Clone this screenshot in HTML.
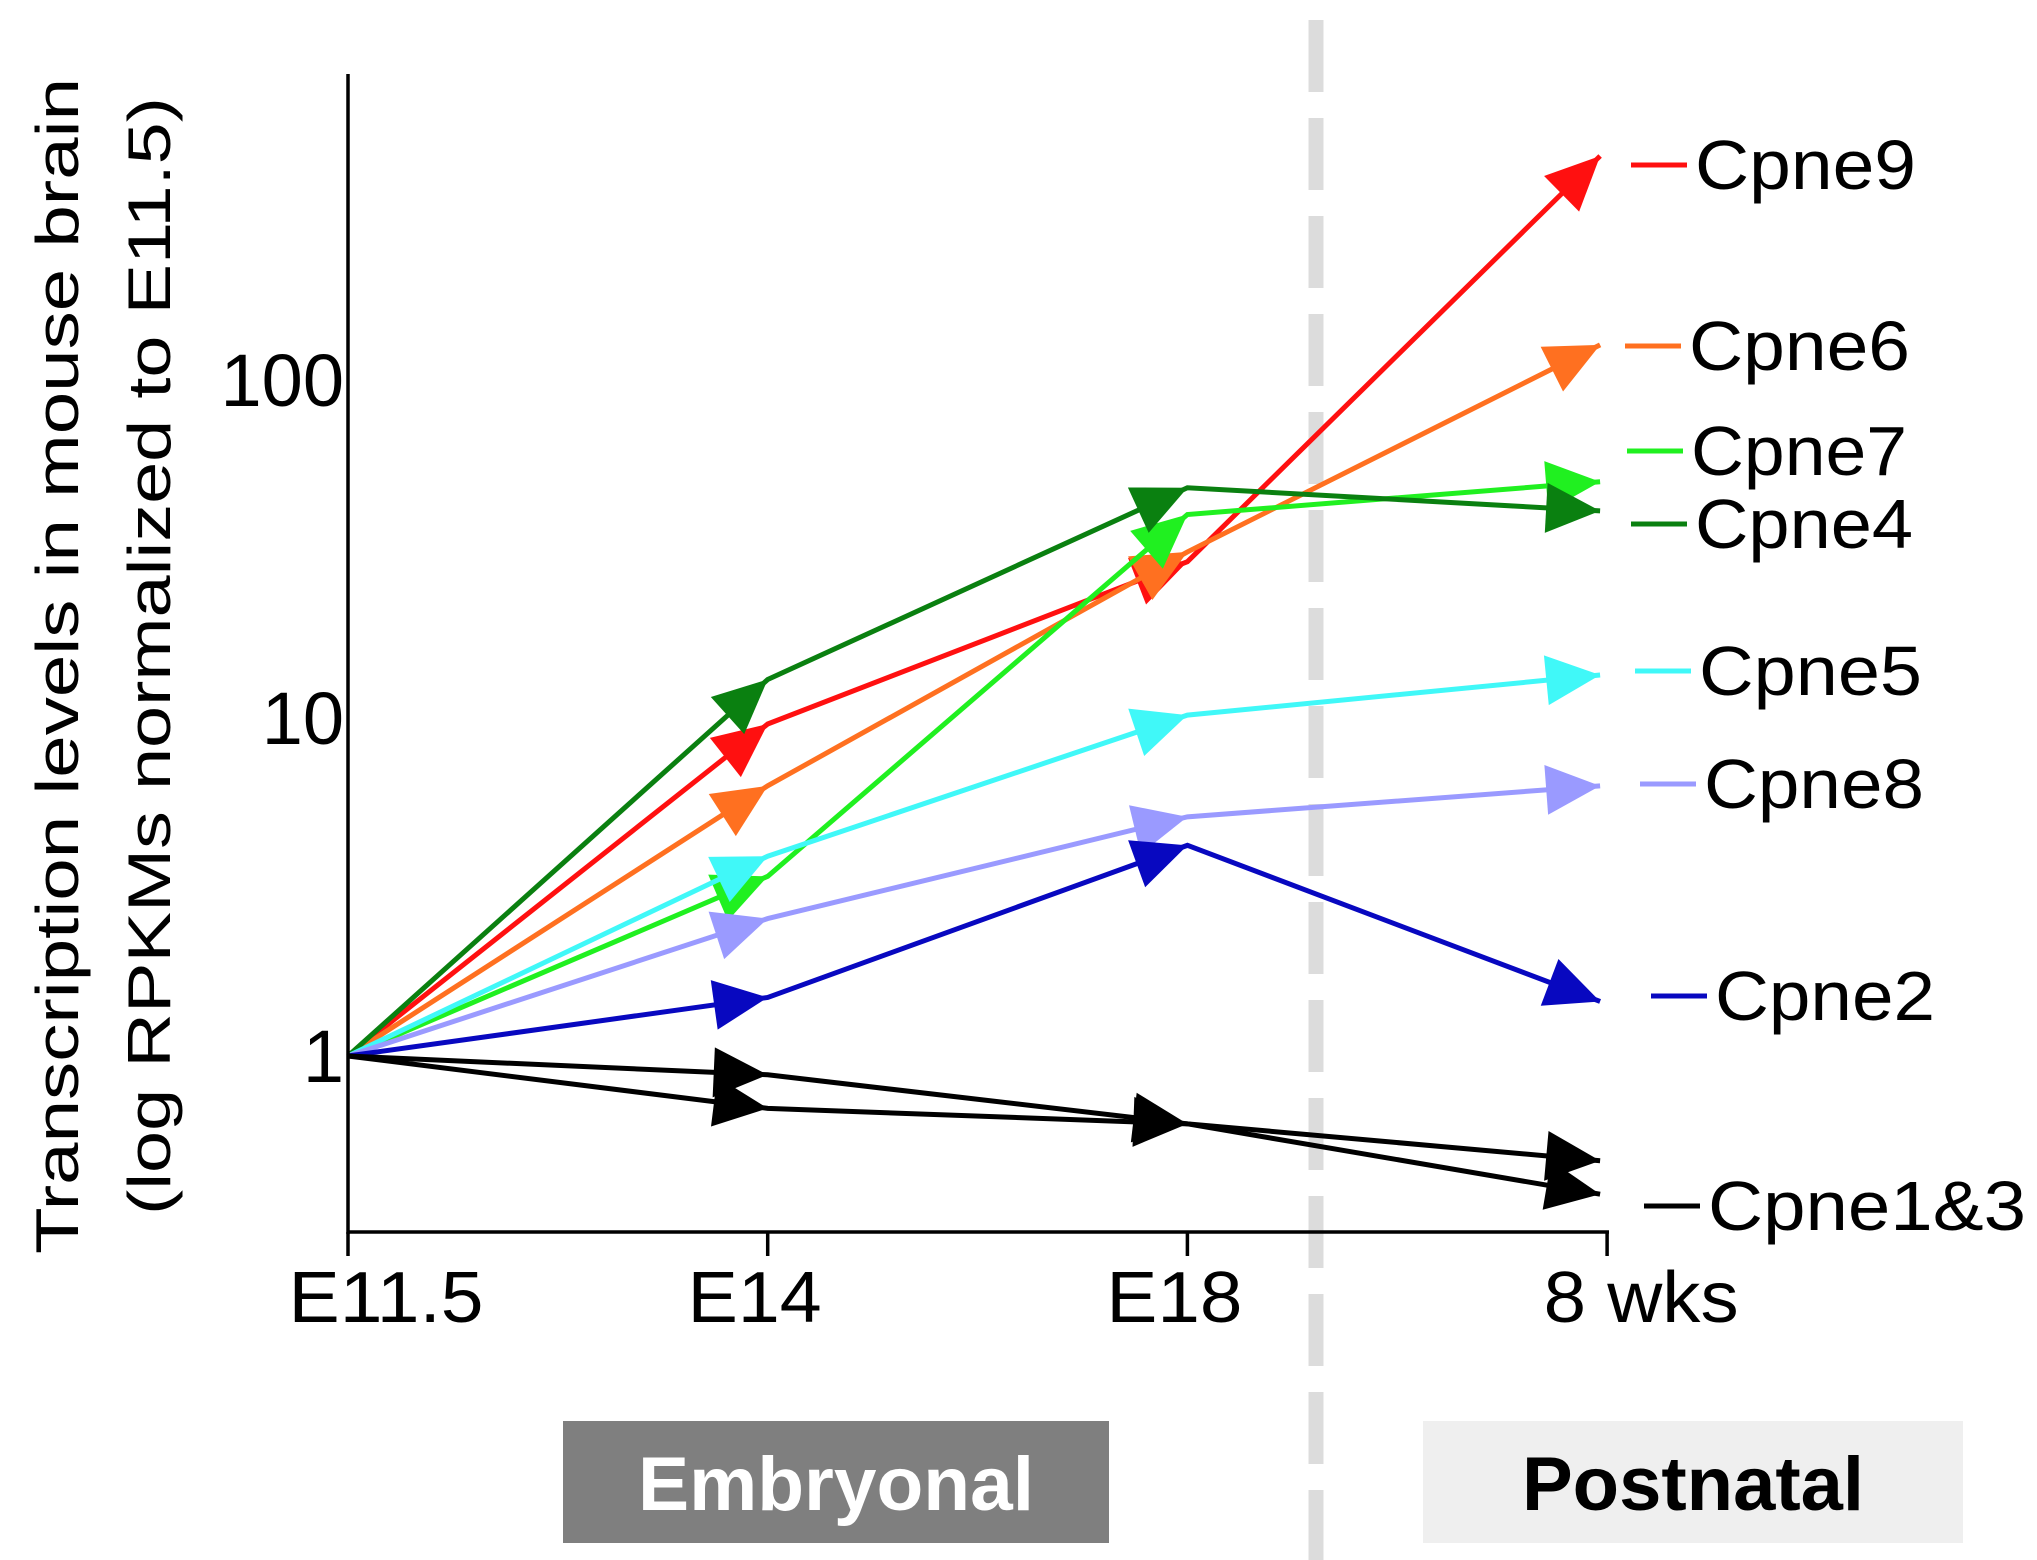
<!DOCTYPE html>
<html><head><meta charset="utf-8"><style>
html,body{margin:0;padding:0;background:#fff;}
svg{display:block;font-family:"Liberation Sans",Arial,sans-serif;}
</style></head><body>
<svg id="chart" width="2037" height="1560" viewBox="0 0 2037 1560" xmlns="http://www.w3.org/2000/svg">
<rect x="0" y="0" width="2037" height="1560" fill="#fff"/>
<line x1="1316" y1="20" x2="1316" y2="1560" stroke="#dcdcdc" stroke-width="15" stroke-dasharray="72 26"/>
<g id="plot"></g>
<line x1="348" y1="74" x2="348" y2="1234" stroke="#000" stroke-width="3.5"/>
<line x1="347" y1="1232" x2="1609" y2="1232" stroke="#000" stroke-width="3.5"/>
<g id="ticks"></g>
<text transform="translate(78,666) rotate(-90)" text-anchor="middle" font-size="60" textLength="1176" lengthAdjust="spacingAndGlyphs">Transcription levels in mouse brain</text>
<text transform="translate(170,656) rotate(-90)" text-anchor="middle" font-size="60" textLength="1118" lengthAdjust="spacingAndGlyphs">(log RPKMs normalized to E11.5)</text>
<rect x="563" y="1421" width="546" height="122" fill="#7f7f7f"/>
<text x="836" y="1510" text-anchor="middle" font-size="76" font-weight="bold" fill="#fff" textLength="396" lengthAdjust="spacingAndGlyphs">Embryonal</text>
<rect x="1423" y="1421" width="540" height="122" fill="#efefef"/>
<text x="1693" y="1510" text-anchor="middle" font-size="76" font-weight="bold" fill="#000" textLength="342" lengthAdjust="spacingAndGlyphs">Postnatal</text>
</svg>
<script>
const categories = ["E11.5","E14","E18","8 wks"];
const yTickValues = [1,10,100];
const yTickLabels = ["1","10","100"];
const seriesNames = ["Cpne9","Cpne6","Cpne7","Cpne4","Cpne5","Cpne8","Cpne2","Cpne1","Cpne3"];
const cpne9 = [1,9.6,29,460];
const cpne6 = [1,6.3,31,127];
const cpne7 = [1,3.4,40,50];
const cpne4 = [1,13,48,41];
const cpne5 = [1,3.9,10.2,13.4];
const cpne8 = [1,2.55,5.1,6.3];
const cpne2 = [1,1.49,4.2,1.45];
const cpne1 = [1,0.88,0.63,0.49];
const cpne3 = [1,0.70,0.63,0.39];
const seriesValues = [cpne9,cpne6,cpne7,cpne4,cpne5,cpne8,cpne2,cpne1,cpne3];
const seriesColors = ["#ff1010","#ff7020","#20f020","#0a8010","#40f8f8","#9a9aff","#0808c0","#000","#000"];
const legendLabels = ["Cpne9","Cpne6","Cpne7","Cpne4","Cpne5","Cpne8","Cpne2","Cpne1&3"];

const NS="http://www.w3.org/2000/svg";
const xPos = i => 348 + i*419.7;
const yPos = v => 1056 - Math.log10(v)*338;
function mk(tag, attrs, parent){const e=document.createElementNS(NS,tag);for(const k in attrs)e.setAttribute(k,attrs[k]);parent.appendChild(e);return e;}
const plot=document.getElementById('plot'), ticks=document.getElementById('ticks');

const xLabelW=[195,134,136,195];
categories.forEach((c,i)=>{
  const t=mk('line',{x1:xPos(i),y1:1232,x2:xPos(i),y2:1256,stroke:'#000','stroke-width':3.5},ticks);
  
  
  const l=mk('text',{x:xPos(i)+(i==0?38:(i==3?34:-13)),y:1322,'text-anchor':'middle','font-size':72,textLength:xLabelW[i],lengthAdjust:'spacingAndGlyphs'},ticks);
  l.textContent=c;
  
  
});
yTickValues.forEach((v,i)=>{
  const l=mk('text',{x:344,y:yPos(v)+26,'text-anchor':'end','font-size':74},ticks);
  l.textContent=yTickLabels[i];
  
  
});

seriesValues.forEach((vals,s)=>{
  const col=seriesColors[s];
  const pts=vals.map((v,i)=>[xPos(i)-(i==3?7:0),yPos(v)]);
  const pl=mk('polyline',{points:pts.map(p=>p.join(',')).join(' '),fill:'none',stroke:col,'stroke-width':5},plot);
  
  
  for(let i=1;i<pts.length;i++){
    const [x0,y0]=pts[i-1],[x1,y1]=pts[i];
    const a=Math.atan2(y1-y0,x1-x0)*180/Math.PI;
    const tri=mk('polygon',{points:'0,0 -54,-25 -54,25',fill:col,transform:`translate(${x1},${y1}) rotate(${a})`},plot);
    
    
  }
});

const legendX=[1695,1689,1691,1695,1699,1704,1715,1708];
const legendY=[165,346,451,524,671,784,996,1206];
const legendW=[221,221,216,218,223,220,220,318];
const legendCol=["#ff1010","#ff7020","#20f020","#0a8010","#40f8f8","#9a9aff","#0808c0","#000"];
legendLabels.forEach((lab,i)=>{
  const d=mk('line',{x1:legendX[i]-64,y1:legendY[i],x2:legendX[i]-8,y2:legendY[i],stroke:legendCol[i],'stroke-width':5},plot);
  
  
  const t=mk('text',{x:legendX[i],y:legendY[i]+24,'font-size':70,textLength:legendW[i],lengthAdjust:'spacingAndGlyphs'},plot);
  t.textContent=lab;
  
  
});
</script>
</body></html>
